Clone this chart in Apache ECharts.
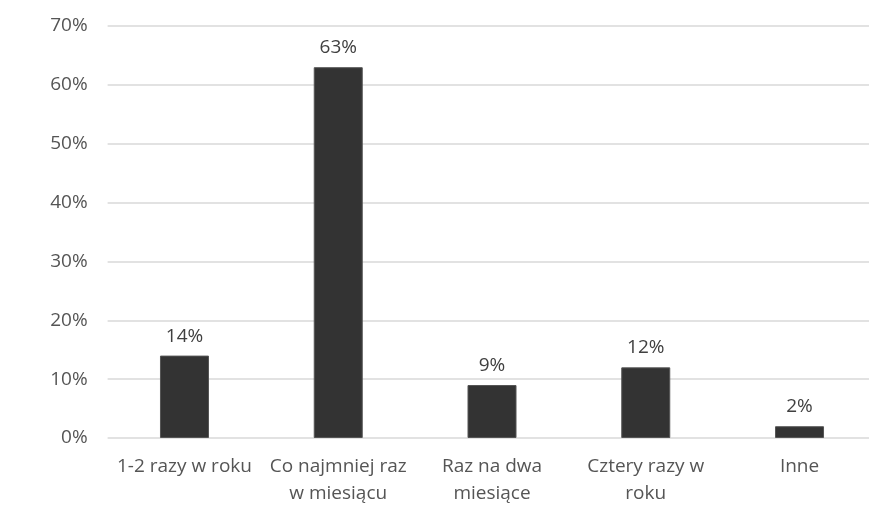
<!DOCTYPE html>
<html><head><meta charset="utf-8">
<script src="https://cdn.jsdelivr.net/npm/echarts@6/dist/echarts.min.js"></script>
<style>html,body{margin:0;padding:0;background:#fff;overflow:hidden;width:869px;height:528px}#c{width:877px;height:528px}</style>
</head><body><div id="c"></div>
<script>
const categories = ['1-2 razy w roku', 'Co najmniej raz\nw miesiącu', 'Raz na dwa\nmiesiące', 'Cztery razy w\nroku', 'Inne'];
const values = [14, 63, 9, 12, 2];
const yMin = 0, yMax = 70, yStep = 10;

const chart = echarts.init(document.getElementById('c'), null, {renderer: 'canvas'});
const font = '"Open Sans", sans-serif';
chart.setOption({
  animation: false,
  backgroundColor: '#ffffff',
  grid: {left: 107.6, top: 26, width: 768.8, height: 412, containLabel: false},
  xAxis: {
    type: 'category', data: categories,
    axisLine: {show: false}, axisTick: {show: false},
    axisLabel: {color: '#555555', fontSize: 19, fontFamily: font, margin: 15, lineHeight: 27, interval: 0}
  },
  yAxis: {
    type: 'value', min: yMin, max: yMax, interval: yStep,
    axisLine: {show: false}, axisTick: {show: false},
    splitLine: {lineStyle: {color: '#d9d9d9', width: 1.5}},
    axisLabel: {color: '#555555', fontSize: 19, fontFamily: font, margin: 20, formatter: v => v + '%'}
  },
  series: [{
    type: 'bar', data: values, barWidth: 49,
    itemStyle: {color: '#333333', borderColor: '#555555', borderWidth: 1},
    label: {show: true, position: 'top', distance: 10, color: '#404040', fontSize: 19, fontFamily: font, formatter: p => p.value + '%'}
  }]
});
</script></body></html>
